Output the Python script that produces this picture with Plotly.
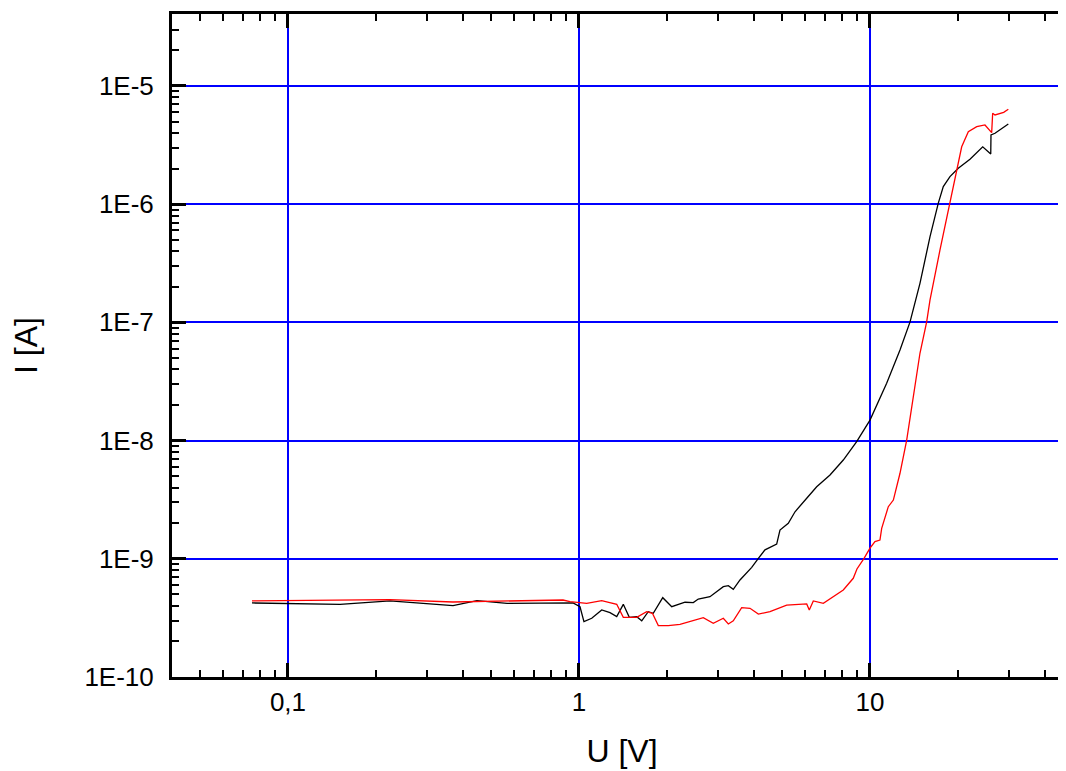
import plotly.graph_objects as go

# Black curve (U in V, I in A)
u_black = [0.0752, 0.151, 0.224, 0.369, 0.446, 0.566, 0.954, 1.008, 1.040, 1.106,
           1.197, 1.278, 1.348, 1.420, 1.489, 1.579, 1.643, 1.730, 1.800, 1.940,
           2.083, 2.314, 2.471, 2.570, 2.819, 3.133, 3.260, 3.390, 3.575, 3.771,
           3.923, 4.134, 4.357, 4.779, 4.905, 5.239, 5.526, 6.061, 6.559, 7.288,
           8.095, 9.00, 10.0, 11.41, 12.68, 13.73, 14.85, 16.08, 17.17, 17.86,
           18.83, 20.11, 22.06, 24.40, 26.00, 26.05, 26.89, 29.88]
i_black = [4.23e-10, 4.12e-10, 4.40e-10, 4.01e-10, 4.42e-10, 4.20e-10, 4.23e-10, 3.93e-10, 2.94e-10, 3.14e-10,
           3.69e-10, 3.50e-10, 3.24e-10, 4.12e-10, 3.20e-10, 3.24e-10, 2.99e-10, 3.57e-10, 3.46e-10, 4.69e-10,
           3.93e-10, 4.29e-10, 4.26e-10, 4.57e-10, 4.78e-10, 5.81e-10, 5.92e-10, 5.52e-10, 6.62e-10, 7.54e-10,
           8.47e-10, 1.01e-9, 1.19e-9, 1.33e-9, 1.75e-9, 2.00e-9, 2.50e-9, 3.25e-9, 4.07e-9, 5.12e-9,
           6.85e-9, 9.79e-9, 1.49e-8, 3.05e-8, 5.84e-8, 1.01e-7, 2.14e-7, 5.31e-7, 1.02e-6, 1.41e-6,
           1.71e-6, 2.01e-6, 2.40e-6, 3.06e-6, 2.66e-6, 3.85e-6, 3.98e-6, 4.77e-6]

# Red curve
u_red = [0.0752, 0.224, 0.369, 0.593, 0.881, 0.931, 1.063, 1.197, 1.348, 1.420,
         1.579, 1.708, 1.788, 1.873, 2.027, 2.224, 2.471, 2.674, 2.894, 3.133,
         3.260, 3.390, 3.623, 3.870, 4.134, 4.533, 5.172, 6.061, 6.186, 6.386,
         6.913, 7.480, 8.095, 8.76, 9.02, 9.54, 10.0, 10.40, 10.82, 10.97,
         11.56, 12.03, 12.68, 13.37, 14.09, 14.85, 15.66, 16.08, 17.40, 18.83,
         19.86, 20.66, 21.77, 23.27, 24.84, 26.19, 26.40, 26.89, 28.80, 29.88]
i_red = [4.40e-10, 4.51e-10, 4.31e-10, 4.42e-10, 4.48e-10, 4.34e-10, 4.20e-10, 4.42e-10, 4.12e-10, 3.20e-10,
         3.20e-10, 3.57e-10, 3.46e-10, 2.72e-10, 2.72e-10, 2.79e-10, 3.03e-10, 3.18e-10, 2.85e-10, 3.14e-10,
         2.81e-10, 2.99e-10, 3.86e-10, 3.81e-10, 3.41e-10, 3.57e-10, 4.06e-10, 4.15e-10, 3.69e-10, 4.40e-10,
         4.20e-10, 4.78e-10, 5.45e-10, 6.84e-10, 8.20e-10, 1.01e-9, 1.23e-9, 1.40e-9, 1.44e-9, 1.81e-9,
         2.76e-9, 3.14e-9, 5.29e-9, 1.01e-8, 2.35e-8, 5.48e-8, 1.01e-7, 1.55e-7, 4.10e-7, 1.02e-6,
         1.95e-6, 3.06e-6, 4.11e-6, 4.53e-6, 4.68e-6, 4.03e-6, 5.87e-6, 5.69e-6, 5.99e-6, 6.35e-6]

x_tickvals = [0.1, 1, 10]
x_ticktext = ["0,1", "1", "10"]
y_tickvals = [1e-10, 1e-9, 1e-8, 1e-7, 1e-6, 1e-5]
y_ticktext = ["1E-10", "1E-9", "1E-8", "1E-7", "1E-6", "1E-5"]
x_minor = [0.05, 0.06, 0.07, 0.08, 0.09, 0.2, 0.3, 0.4, 0.5, 0.6, 0.7, 0.8, 0.9,
           2, 3, 4, 5, 6, 7, 8, 9, 20, 30, 40]
y_minor = [m * 10.0 ** e for e in range(-10, -4) for m in range(2, 10)]

fig = go.Figure()
fig.add_trace(go.Scatter(x=u_black, y=i_black, mode="lines",
                         line=dict(color="black", width=1.3), showlegend=False))
fig.add_trace(go.Scatter(x=u_red, y=i_red, mode="lines",
                         line=dict(color="red", width=1.3), showlegend=False))

font_family = "Liberation Sans, Arial, sans-serif"
axis_common = dict(
    showline=True, linecolor="black", linewidth=3, mirror="allticks",
    ticks="inside", ticklen=14, tickwidth=3, tickcolor="black",
    showgrid=True, gridcolor="#0000ff", gridwidth=1.5, zeroline=False,
    tickmode="array", automargin=False,
    tickfont=dict(family=font_family, size=26, color="black"),
)

fig.update_xaxes(
    type="log", range=[-1.3986, 1.6942],
    tickvals=x_tickvals, ticktext=x_ticktext,
    minor=dict(ticks="inside", ticklen=7, tickwidth=2, tickcolor="black",
               tickmode="array", tickvals=x_minor, showgrid=False),
    title=dict(text="U [V]", font=dict(family=font_family, size=32, color="black"), standoff=24),
    ticklabelstandoff=0,
    **axis_common,
)
fig.update_yaxes(
    type="log", range=[-10, -4.391],
    tickvals=y_tickvals, ticktext=y_ticktext,
    minor=dict(ticks="inside", ticklen=7, tickwidth=2, tickcolor="black",
               tickmode="array", tickvals=y_minor, showgrid=False),
    title=dict(text="I [A]", font=dict(family=font_family, size=32, color="black"), standoff=40),
    ticklabelstandoff=10,
    **axis_common,
)

fig.update_layout(
    width=1066, height=771,
    margin=dict(l=164, r=2, t=6, b=102),
    paper_bgcolor="white", plot_bgcolor="white",
    font=dict(family=font_family, color="black"),
)

fig.write_html("out.html")
